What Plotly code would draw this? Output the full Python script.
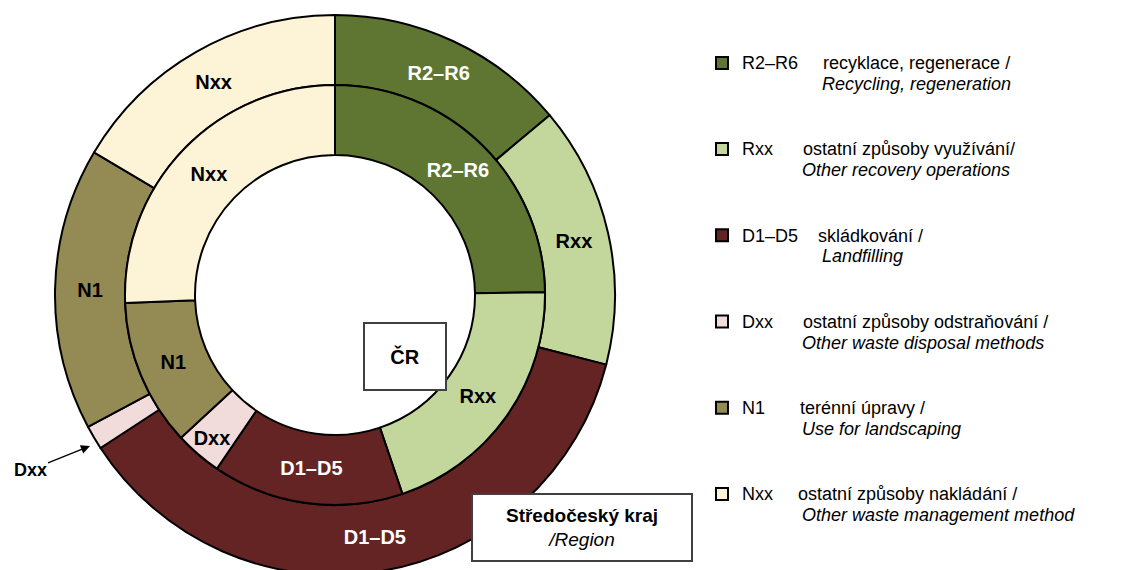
import plotly.graph_objects as go

# Waste management methods, clockwise from 12 o'clock (same order in both rings)
codes = ["R2–R6", "Rxx", "D1–D5", "Dxx", "N1", "Nxx"]
desc_cz = [
    "recyklace, regenerace /",
    "ostatní způsoby využívání/",
    "skládkování /",
    "ostatní způsoby odstraňování /",
    "terénní úpravy /",
    "ostatní způsoby nakládání /",
]
desc_en = [
    "Recycling, regeneration",
    "Other recovery operations",
    "Landfilling",
    "Other waste disposal methods",
    "Use for landscaping",
    "Other waste management method",
]

# Shares in %
region_share = [13.9, 15.1, 36.8, 1.4, 16.3, 16.5]  # outer ring: Středočeský kraj
cr_share = [24.8, 20.0, 14.7, 3.6, 11.3, 25.6]      # inner ring: ČR

# Colours
COLORS = ["#5E7632", "#C3D69B", "#632423", "#F2DCDB", "#948A54", "#FDF3D6"]
TEXT_COLORS = ["white", "black", "white", "black", "black", "black"]
FONT = "Liberation Sans, Arial, sans-serif"

# Geometry (pixels)
W, H = 1121, 575
CX, CY = 335, 295
R_OUT, R_MID, R_HOLE = 280, 210, 140

# nbsp padding in legend: gap after code, indent of 2nd line
GAP_AFTER_CODE = [5, 6, 4, 6, 7, 5]
INDENT_2ND = [16, 12, 16, 12, 12, 12]


def domain(r):
    return dict(
        x=[max(0, (CX - r) / W), min(1, (CX + r) / W)],
        y=[max(0, 1 - (CY + r) / H), min(1, 1 - (CY - r) / H)],
    )


def paper(x, y):
    return x / W, 1 - y / H


nb = "\u00a0"
# two text lines + two blank lines (spacing between legend entries)
legend_labels = [
    f"<span style='font-size:18px'>{c}{nb * g}{cz}</span><br>"
    f"<span style='font-size:18px'>{nb * i}<i>{en}</i></span><br>{nb}<br>{nb}"
    for c, cz, en, g, i in zip(codes, desc_cz, desc_en, GAP_AFTER_CODE, INDENT_2ND)
]

outer_text = ["" if c == "Dxx" else c for c in codes]

fig = go.Figure()

# Outer ring: Středočeský kraj
fig.add_trace(
    go.Pie(
        labels=legend_labels,
        values=region_share,
        text=outer_text,
        textinfo="text",
        textposition="inside",
        insidetextorientation="horizontal",
        textfont=dict(family=FONT, size=20, color=TEXT_COLORS, weight="bold"),
        hole=R_MID / R_OUT,
        sort=False,
        direction="clockwise",
        rotation=0,
        marker=dict(colors=COLORS, line=dict(color="black", width=2)),
        domain=domain(R_OUT),
        hoverinfo="skip",
        showlegend=True,
    )
)

# Inner ring: ČR
fig.add_trace(
    go.Pie(
        labels=legend_labels,
        values=cr_share,
        text=codes,
        textinfo="text",
        textposition="inside",
        insidetextorientation="horizontal",
        textfont=dict(family=FONT, size=20, color=TEXT_COLORS, weight="bold"),
        hole=R_HOLE / R_MID,
        sort=False,
        direction="clockwise",
        rotation=0,
        marker=dict(colors=COLORS, line=dict(color="black", width=2)),
        domain=domain(R_MID),
        hoverinfo="skip",
        showlegend=False,
    )
)

annotations = []

# "ČR" box in the centre
bx, by = paper(404.5, 356)
annotations.append(dict(
    x=bx, y=by, xref="paper", yref="paper", xanchor="center", yanchor="middle",
    showarrow=False,
    text="<b>ČR</b>", font=dict(family=FONT, size=20, color="black"),
    width=80, height=65, borderpad=0, borderwidth=2,
    bordercolor="#404040", bgcolor="white",
))

# Region box
rx, ry = paper(582, 527.5)
annotations.append(dict(
    x=rx, y=ry, xref="paper", yref="paper", xanchor="center", yanchor="middle",
    showarrow=False,
    text="<b>Středočeský kraj</b><br><i>/Region</i>",
    font=dict(family=FONT, size=19, color="black"),
    width=218, height=65, borderpad=0, borderwidth=2,
    bordercolor="#404040", bgcolor="white",
))

# Dxx pointer for the tiny outer slice
hx, hy = paper(90, 446)
annotations.append(dict(
    x=hx, y=hy, xref="paper", yref="paper",
    text="<b>Dxx</b>", font=dict(family=FONT, size=18, color="black"),
    showarrow=True, arrowhead=2, arrowsize=1.4, arrowwidth=1.3, arrowcolor="black",
    ax=-60, ay=24,
))

lx, ly = paper(702, 46)
fig.update_layout(
    width=W,
    height=H,
    margin=dict(l=0, r=0, t=0, b=0),
    paper_bgcolor="white",
    plot_bgcolor="white",
    annotations=annotations,
    legend=dict(
        x=lx, y=ly, xanchor="left", yanchor="top",
        font=dict(family=FONT, size=16, color="black"),
        valign="top",
        bgcolor="rgba(0,0,0,0)",
        borderwidth=0,
        itemclick=False,
        itemdoubleclick=False,
    ),
)

fig.write_html(
    "out.html",
    config={"displayModeBar": False},
    post_script=(
        "document.body.style.margin='0';"
        "document.body.style.overflow='hidden';"
        "document.documentElement.style.overflow='hidden';"
    ),
)
